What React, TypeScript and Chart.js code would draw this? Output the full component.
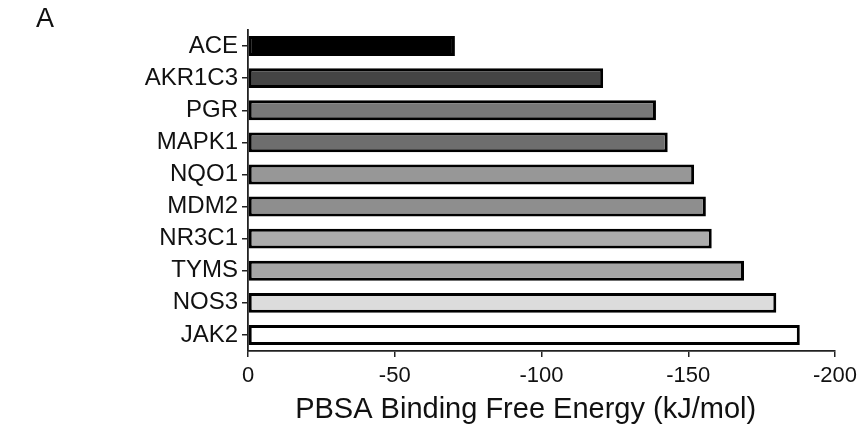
import React, { useEffect, useRef } from "react";
import { Chart, registerables } from "chart.js";

Chart.register(...registerables);

const categories = ["ACE", "AKR1C3", "PGR", "MAPK1", "NQO1", "MDM2", "NR3C1", "TYMS", "NOS3", "JAK2"];
const energies = [-70.5, -121, -139, -143, -152, -156, -158, -169, -180, -188];
const barColors = ["#000000", "#454545", "#787878", "#6e6e6e", "#979797", "#8e8e8e", "#acacac", "#a5a5a5", "#dcdcdc", "#ffffff"];
const xTicks = [0, -50, -100, -150, -200];
const xTitle = "PBSA Binding Free Energy (kJ/mol)";
const panelLabel = "A";

const FONT = "'Liberation Sans', Arial, sans-serif";

const xTitlePlugin = {
  id: "xTitlePlugin",
  afterDraw(chart: any) {
    const ctx = chart.ctx;
    const area = chart.chartArea;
    ctx.save();
    ctx.font = `29px ${FONT}`;
    ctx.fillStyle = "#111";
    ctx.textAlign = "center";
    ctx.textBaseline = "middle";
    ctx.fillText(xTitle, area.left + (area.right - area.left) * 0.473, chart.height - 16);
    ctx.restore();
  },
};

export default function App() {
  const ref = useRef<HTMLCanvasElement | null>(null);
  useEffect(() => {
    if (!ref.current) return;
    const chart = new Chart(ref.current, {
      type: "bar",
      data: {
        labels: categories,
        datasets: [
          {
            data: energies,
            backgroundColor: barColors,
            borderColor: "#000000",
            borderWidth: 3,
            borderSkipped: false,
            barPercentage: 0.62,
            categoryPercentage: 1,
          },
        ],
      },
      plugins: [xTitlePlugin],
      options: {
        indexAxis: "y",
        animation: false,
        responsive: false,
        maintainAspectRatio: false,
        layout: { padding: { top: 30, right: 23, left: 0, bottom: 0 } },
        plugins: { legend: { display: false }, tooltip: { enabled: false } },
        scales: {
          x: {
            type: "linear",
            min: xTicks[xTicks.length - 1],
            max: xTicks[0],
            reverse: true,
            afterBuildTicks: (scale: any) => {
              scale.ticks = xTicks.map((v) => ({ value: v }));
            },
            afterFit: (scale: any) => {
              scale.height = 75;
              scale.paddingLeft = 0;
              scale.paddingRight = 0;
            },
            ticks: {
              color: "#111",
              font: { family: FONT, size: 22 },
              padding: 6,
              maxRotation: 0,
              callback: (v: any) => String(v),
            },
            grid: {
              drawOnChartArea: false,
              drawTicks: true,
              tickLength: 6,
              color: "#222",
              lineWidth: 1.5,
            },
            border: { display: true, color: "#222", width: 1.8 },
          },
          y: {
            afterFit: (scale: any) => {
              scale.width = 248;
            },
            ticks: {
              color: "#111",
              font: { family: FONT, size: 24 },
              padding: 4,
            },
            grid: {
              drawOnChartArea: false,
              drawTicks: true,
              tickLength: 6,
              color: "#222",
              lineWidth: 1.5,
              offset: false,
            },
            border: { display: true, color: "#222", width: 1.8 },
          },
        },
      },
    });
    return () => chart.destroy();
  }, []);
  return (
    <div style={{ position: "absolute", left: 0, top: 0, width: 858, height: 426, background: "#fff" }}>
      <div
        style={{
          position: "absolute",
          left: 36,
          top: 3,
          fontFamily: FONT,
          fontSize: 27,
          color: "#111",
        }}
      >
        {panelLabel}
      </div>
      <canvas ref={ref} width={858} height={426} style={{ display: "block" }} />
    </div>
  );
}
